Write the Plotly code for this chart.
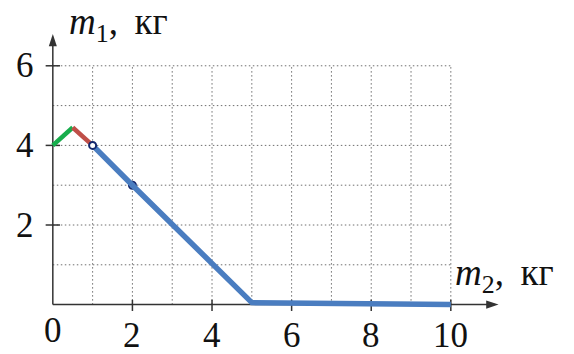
import plotly.graph_objects as go

# ---- data ----
x_ticks = [2, 4, 6, 8, 10]
y_ticks = [2, 4, 6]
grid_x = [1, 2, 3, 4, 5, 6, 7, 8, 9, 10]
grid_y = [1, 2, 3, 4, 5, 6]

green_x = [0, 0.5]
green_y = [4, 4.45]
red_x = [0.5, 1]
red_y = [4.45, 4]
blue_x = [1, 2, 5, 10]
blue_y = [4, 3, 0.05, 0]
pts_x = [1, 2]
pts_y = [4, 3]

x_label = "<i>m</i><sub>2</sub>,&#8201; кг"
y_label = "<i>m</i><sub>1</sub>,&#8201; кг"

FONT = "Liberation Serif, Times New Roman, serif"
GRID_C = "#6e6e6e"
AX_C = "#333333"

fig = go.Figure()

# grid (dotted)
gx, gy = [], []
for v in grid_x:
    gx += [v, v, None]
    gy += [0, max(grid_y), None]
for v in grid_y:
    gx += [0, max(grid_x), None]
    gy += [v, v, None]
fig.add_trace(go.Scatter(x=gx, y=gy, mode="lines",
                         line=dict(color=GRID_C, width=1, dash="1.5px,2.5px"),
                         hoverinfo="skip", showlegend=False))

# axis lines
fig.add_trace(go.Scatter(x=[0, 11.1], y=[0, 0], mode="lines",
                         line=dict(color=AX_C, width=1.5), showlegend=False))
fig.add_trace(go.Scatter(x=[0, 0], y=[0, 6.7], mode="lines",
                         line=dict(color=AX_C, width=1.5), showlegend=False))

# ticks
tx, ty = [], []
for v in x_ticks:
    tx += [v, v, None]
    ty += [-0.16, 0.12, None]
for v in y_ticks:
    tx += [-0.18, 0.18, None]
    ty += [v, v, None]
fig.add_trace(go.Scatter(x=tx, y=ty, mode="lines",
                         line=dict(color=AX_C, width=1.5), showlegend=False))

# arrowheads
fig.add_trace(go.Scatter(x=[11.2], y=[0], mode="markers",
                         marker=dict(symbol="arrow", angle=90, size=13, color=AX_C,
                                     line=dict(width=0)),
                         showlegend=False))
fig.add_trace(go.Scatter(x=[0], y=[6.8], mode="markers",
                         marker=dict(symbol="arrow", angle=0, size=13, color=AX_C,
                                     line=dict(width=0)),
                         showlegend=False))

# point under the blue line
fig.add_trace(go.Scatter(x=[pts_x[1]], y=[pts_y[1]], mode="markers",
                         marker=dict(size=7, color="white",
                                     line=dict(color="#14286e", width=2)),
                         showlegend=False))

# curves
fig.add_trace(go.Scatter(x=green_x, y=green_y, mode="lines",
                         line=dict(color="#17ad4c", width=4.5), showlegend=False))
fig.add_trace(go.Scatter(x=red_x, y=red_y, mode="lines",
                         line=dict(color="#bf4f48", width=4.5), showlegend=False))
fig.add_trace(go.Scatter(x=blue_x, y=blue_y, mode="lines",
                         line=dict(color="#4a7dc0", width=5.5), showlegend=False))

# point on top
fig.add_trace(go.Scatter(x=[pts_x[0]], y=[pts_y[0]], mode="markers",
                         marker=dict(size=7, color="white",
                                     line=dict(color="#14286e", width=2)),
                         showlegend=False))

ann = []
# tick labels
for v in x_ticks:
    ann.append(dict(x=v, y=-0.78, xref="x", yref="y", text=str(v), showarrow=False,
                    xanchor="center", yanchor="middle",
                    font=dict(family=FONT, size=35, color="#111")))
ann.append(dict(x=0, y=-0.64, xref="x", yref="y", text="0", showarrow=False,
                xanchor="center", yanchor="middle",
                font=dict(family=FONT, size=35, color="#111")))
for v in y_ticks:
    ann.append(dict(x=-0.71, y=v, xref="x", yref="y", text=str(v), showarrow=False,
                    xanchor="center", yanchor="middle",
                    font=dict(family=FONT, size=35, color="#111")))
# axis labels
ann.append(dict(x=0.36, y=7.03, xref="x", yref="y", text=y_label, showarrow=False,
                xanchor="left", yanchor="middle",
                font=dict(family=FONT, size=37, color="#111")))
ann.append(dict(x=10.05, y=0.72, xref="x", yref="y", text=x_label, showarrow=False,
                xanchor="left", yanchor="middle",
                font=dict(family=FONT, size=37, color="#111")))

fig.update_layout(
    width=574, height=354,
    margin=dict(l=0, r=0, t=0, b=0),
    paper_bgcolor="white", plot_bgcolor="white",
    xaxis=dict(range=[-1.327, 13.095], visible=False, fixedrange=True),
    yaxis=dict(range=[-1.241, 7.653], visible=False, fixedrange=True),
    annotations=ann,
    showlegend=False,
)

fig.write_html("out.html", config={"displayModeBar": False},
               post_script="document.body.style.margin='0';document.body.style.overflow='hidden';")
